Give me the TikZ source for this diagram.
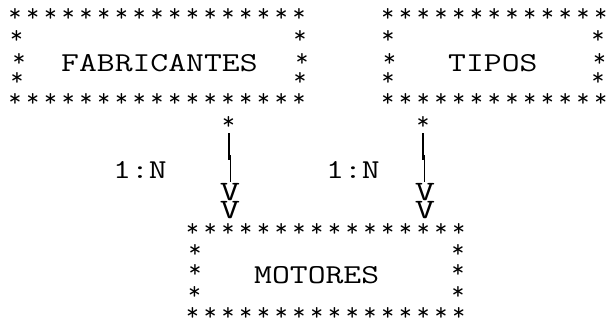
\documentclass[tikz,border=0pt]{standalone}
\usepackage{fontspec}
\usepackage{graphicx}
\begin{document}
\begin{tikzpicture}[x=1pt,y=-1pt,
  ast/.style={inner sep=0pt, anchor=center, text height=4pt, text depth=4pt,
    font=\fontsize{25}{25}\selectfont\ttfamily},
  lbl/.style={inner sep=0pt, anchor=base west, font=\fontsize{27.3}{27.3}\selectfont\ttfamily},
  arr/.style={inner sep=0pt, anchor=base, font=\fontsize{28}{28}\selectfont\ttfamily},
  pipe/.style={line width=1.5pt, black}]
\useasboundingbox (0,0) rectangle (608,322);
\newcommand\myast{\raisebox{-0.25em}{*}}
\newcommand\mywide[1]{\scalebox{1.27}[1]{#1}}
\newcommand\myvee{\scalebox{1.4}[1]{V}}
% horizontal star rows: #1 name, #2 first col, #3 last col, #4 y
\newcommand\starrowx[4]{%
  \foreach \k in {#2,...,#3}{\node[ast] (#1-\k) at ({15+17.75*\k},{#4}) {\myast};}}
% single star
\newcommand\sidestar[3]{\node[ast] (#1) at ({#2},{#3}) {\myast};}
% Box FABRICANTES
\starrowx{fT}{0}{16}{15}
\starrowx{fB}{0}{16}{100}
\sidestar{fL1}{16.5}{37.3}\sidestar{fR1}{300}{37.3}
\sidestar{fL2}{19}{60}\sidestar{fR2}{302}{60}
\sidestar{fL3}{17}{79.3}\sidestar{fR3}{300}{79.3}
\node[lbl] (fab) at (61,71.7) {\mywide{FABRICANTES}};
% Box TIPOS
\starrowx{tT}{21}{33}{15}
\starrowx{tB}{21}{33}{100}
\sidestar{tL1}{388}{37.3}\sidestar{tR1}{598}{37.3}
\sidestar{tL2}{389.5}{60}\sidestar{tR2}{599.5}{60}
\sidestar{tL3}{388}{79.3}\sidestar{tR3}{598}{79.3}
\node[lbl] (tip) at (448,71.7) {\mywide{TIPOS}};
% Box MOTORES
\starrowx{mT}{10}{25}{230}
\starrowx{mB}{10}{25}{314.5}
\sidestar{mL1}{195}{251.7}\sidestar{mR1}{458}{251.7}
\sidestar{mL2}{195}{271.7}\sidestar{mR2}{458}{271.7}
\sidestar{mL3}{194.5}{293.3}\sidestar{mR3}{458}{293.3}
\node[lbl] (mot) at (254,283) {\mywide{MOTORES}};
% connector stars
\sidestar{cs1}{228.5}{123.5}
\sidestar{cs2}{423}{123.5}
% arrow heads V V
\node[arr] (v1a) at (230,200) {\myvee};
\node[arr] (v1b) at (230,218.5) {\myvee};
\node[arr] (v2a) at (425,200) {\myvee};
\node[arr] (v2b) at (425,218.5) {\myvee};
% labels
\node[lbl] (n1) at (113,178.3) {\mywide{1:N}};
\node[lbl] (n2) at (326,178.3) {\mywide{1:N}};
% pipes
\coordinate (p1a) at (229,133); \coordinate (p1b) at (229,160);
\coordinate (p1c) at (230.3,155); \coordinate (p1d) at (230.3,182);
\coordinate (p2a) at (423,133); \coordinate (p2b) at (423,160);
\coordinate (p2c) at (424.3,155); \coordinate (p2d) at (424.3,182);
\draw[pipe] (p1a) -- (p1b);
\draw[pipe] (p1c) -- (p1d);
\draw[pipe] (p2a) -- (p2b);
\draw[pipe] (p2c) -- (p2d);
\end{tikzpicture}
\end{document}
